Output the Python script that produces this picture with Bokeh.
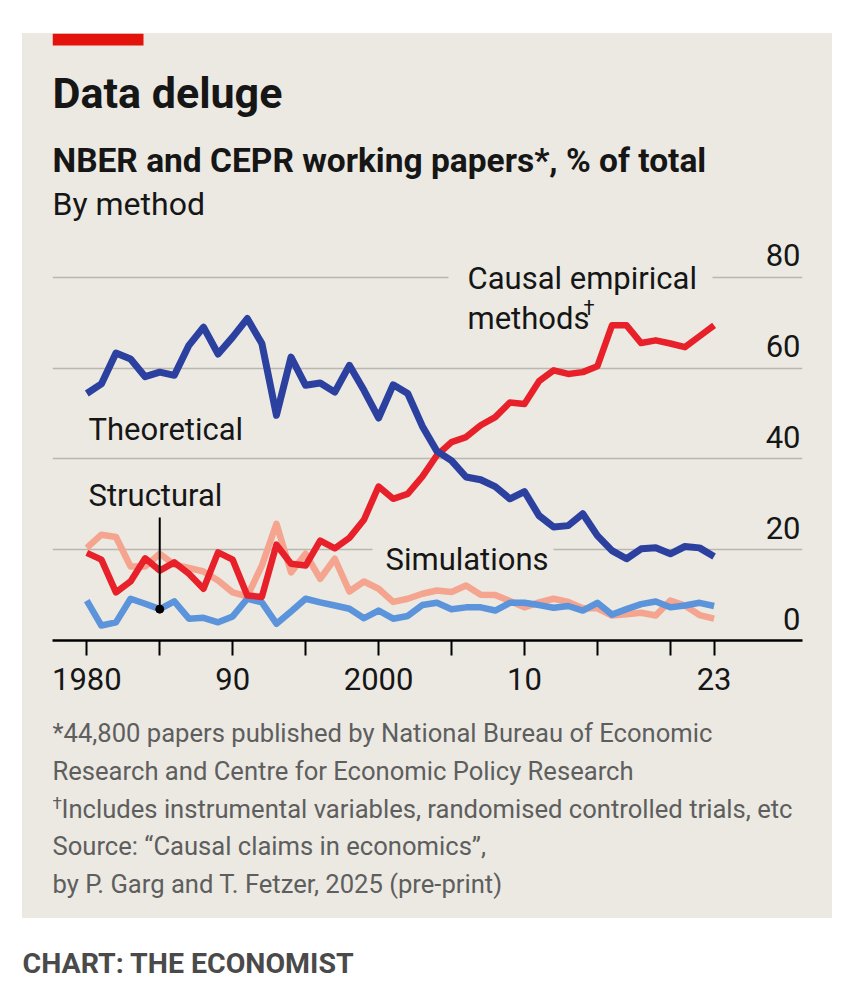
from bokeh.plotting import figure
from bokeh.models import Range1d, FixedTicker, Label, BoxAnnotation, ColumnDataSource
from bokeh.layouts import column
from bokeh.embed import file_html
from bokeh.resources import INLINE
from bokeh.core.properties import value

# ---------------- data ----------------
years = list(range(1980, 2024))
theoretical = [54.4, 56.5, 63.3, 62.0, 58.1, 59.1, 58.4, 65.0, 69.0, 63.1,
               66.8, 70.9, 65.4, 49.6, 62.4, 56.2, 56.7, 54.7, 60.6, 55.1,
               49.0, 56.3, 54.4, 47.2, 41.7, 39.6, 36.0, 35.4, 33.9, 31.2,
               32.8, 27.5, 25.0, 25.3, 27.9, 23.1, 19.8, 18.0, 20.2, 20.4,
               19.1, 20.7, 20.4, 18.5]
causal = [19.3, 17.8, 10.6, 13.0, 18.1, 15.4, 17.2, 14.7, 11.4, 19.4,
          17.8, 9.9, 9.6, 21.1, 16.9, 16.5, 22.0, 20.3, 22.6, 26.6,
          33.9, 31.2, 32.3, 36.1, 40.8, 43.7, 44.8, 47.4, 49.2, 52.4,
          52.1, 57.1, 59.5, 58.7, 59.1, 60.4, 69.4, 69.4, 65.5, 66.1,
          65.4, 64.6, 67.0, 69.4]
simulations = [20.4, 23.3, 22.8, 16.3, 16.3, 19.1, 16.7, 16.0, 15.2, 13.2,
               10.6, 9.7, 16.5, 25.7, 15.0, 19.1, 13.6, 18.0, 10.8, 13.0,
               11.4, 8.5, 9.2, 10.3, 11.0, 10.7, 12.1, 10.1, 10.0, 8.7,
               7.3, 8.4, 9.2, 8.5, 7.1, 7.1, 5.5, 5.8, 6.1, 5.5,
               8.8, 7.7, 5.6, 4.8]
structural = [8.8, 3.3, 4.0, 9.2, 8.1, 6.9, 8.6, 4.8, 5.0, 4.0,
              5.3, 9.2, 8.4, 3.7, 6.4, 9.2, 8.4, 7.7, 7.0, 4.9,
              6.6, 4.8, 5.4, 7.8, 8.3, 6.9, 7.3, 7.3, 6.6, 8.3,
              8.3, 7.8, 7.2, 7.6, 6.6, 8.3, 5.7, 6.9, 8.0, 8.6,
              7.3, 7.7, 8.3, 7.6]

y_ticks = [0, 20, 40, 60, 80]
y_tick_labels = ["0", "20", "40", "60", "80"]
x_ticks = [1980, 1985, 1990, 1995, 2000, 2005, 2010, 2015, 2020, 2023]
x_tick_labels = ["1980", "", "90", "", "2000", "", "10", "", "", "23"]
structural_pointer_year = 1985

title = "Data deluge"
subtitle = "NBER and CEPR working papers*, % of total"
subsubtitle = "By method"
notes = ["*44,800 papers published by National Bureau of Economic",
         "Research and Centre for Economic Policy Research",
         "Includes instrumental variables, randomised controlled trials, etc",
         "Source: \u201cCausal claims in economics\u201d,",
         "by P. Garg and T. Fetzer, 2025 (pre-print)"]
credit = "CHART: THE ECONOMIST"

# ---------------- style ----------------
BG = "#ebe9e2"
GRID = "#b9b8b0"
DARK_BLUE = "#2c40a0"
RED = "#e8202a"
SALMON = "#f4a48f"
LIGHT_BLUE = "#5b94da"
INK = "#161616"
GREY = "#5e5e5e"
FONT = "Roboto"
BASE_SHIFT = 0.35   # correction of the renderer's alphabetic baseline (in em)

W = 810          # panel width (page x 22 .. 832)
LEFT = 22        # page x of the panel
TOP = 33         # page y of the panel
B_LEFT, B_RIGHT = 30, 30


def blank(y_top, y_bottom, bg, margin=(0, 0, 0, 0), aligned=True):
    """Figure whose data coordinates are page pixels."""
    if aligned:
        xr = Range1d(LEFT + B_LEFT, LEFT + W - B_RIGHT)
        kw = dict(min_border_left=B_LEFT, min_border_right=B_RIGHT,
                  min_border_top=0, min_border_bottom=0)
    else:
        xr = Range1d(LEFT, LEFT + W)
        kw = dict(min_border=0)
    f = figure(width=W, height=y_bottom - y_top, x_range=xr, y_range=Range1d(y_bottom, y_top),
               output_backend="svg", toolbar_location=None,
               x_axis_location=None, y_axis_location=None, margin=margin, **kw)
    f.background_fill_color = bg
    f.border_fill_color = bg
    f.outline_line_color = None
    f.xgrid.visible = False
    f.ygrid.visible = False
    return f


def tlab(fig, text, px, py, size, style="normal", color=INK):
    fig.add_layout(Label(x=px, y=py - BASE_SHIFT * size, text=text, text_font=FONT,
                         text_font_size=f"{size}px", text_font_style=style,
                         text_color=color, text_baseline="alphabetic"))


# ---------------- header ----------------
HEAD_BOTTOM = 230
head = blank(TOP, HEAD_BOTTOM, BG)
head.add_layout(BoxAnnotation(left=52, right=143, top=TOP, bottom=TOP + 12,
                              fill_color="#e3120b", fill_alpha=1, line_color=None))
tlab(head, title, 52, 107.3, 43, "bold")
tlab(head, subtitle, 52, 171.7, 33.5, "bold")
tlab(head, subsubtitle, 52, 215, 32)

# ---------------- chart ----------------
CH_H = 480
B_BOTTOM = 70
FRAME_W = W - B_LEFT - B_RIGHT
FRAME_H = CH_H - B_BOTTOM
PX_PER_YEAR = 14.588
PX_PER_UNIT = 4.541
x_start = 1980 - 34.3 / PX_PER_YEAR
x_range = Range1d(x_start, x_start + FRAME_W / PX_PER_YEAR)
y_range = Range1d(0, FRAME_H / PX_PER_UNIT)

p = figure(width=W, height=CH_H, x_range=x_range, y_range=y_range,
           output_backend="svg", toolbar_location=None,
           min_border_left=B_LEFT, min_border_right=B_RIGHT,
           min_border_top=0, min_border_bottom=B_BOTTOM,
           y_axis_location=None)
p.background_fill_color = BG
p.border_fill_color = BG
p.outline_line_color = None

p.xgrid.visible = False
p.ygrid.ticker = FixedTicker(ticks=[t for t in y_ticks if t > 0])
p.ygrid.grid_line_color = GRID
p.ygrid.grid_line_width = 1.5

ax = p.xaxis[0]
ax.ticker = FixedTicker(ticks=x_ticks)
ax.major_label_overrides = {t: lab for t, lab in zip(x_ticks, x_tick_labels)}
ax.axis_line_color = "black"
ax.axis_line_width = 2.5
ax.major_tick_line_color = "black"
ax.major_tick_line_width = 2
ax.major_tick_out = 15
ax.major_tick_in = 0
ax.minor_tick_line_color = None
ax.major_label_text_font = FONT
ax.major_label_text_font_size = "31px"
ax.major_label_text_color = INK
ax.major_label_standoff = 12

# y tick labels sit above their gridlines, right-aligned
y_lab_x = x_range.end - 2 / PX_PER_YEAR
p.text(x=[y_lab_x] * len(y_ticks), y=y_ticks, text=y_tick_labels,
       text_align="right", text_baseline="alphabetic", y_offset=-22,
       text_font=value(FONT), text_font_size="31px", text_color=INK)

# chart frame bottom-left is at page (52, 640)
def cbox(x0, x1, y0, y1):
    p.add_layout(BoxAnnotation(left=x0 - 52, right=x1 - 52, top=640 - y0, bottom=640 - y1,
                               left_units="screen", right_units="screen",
                               top_units="screen", bottom_units="screen",
                               fill_color=BG, fill_alpha=1, line_color=None))


def clab(text, px, py, size):
    p.add_layout(Label(x=px - 52, y=640 - (py - BASE_SHIFT * size), x_units="screen",
                       y_units="screen", text=text, text_font=FONT,
                       text_font_size=f"{size}px", text_color=INK,
                       text_baseline="alphabetic"))


# background patches behind labels that interrupt gridlines
cbox(448, 712, 268, 286)
cbox(372, 553, 541, 557)

src = ColumnDataSource(dict(year=years, theoretical=theoretical, causal=causal,
                            simulations=simulations, structural=structural))
p.line("year", "simulations", source=src, line_color=SALMON, line_width=6.5, line_join="round")
p.line("year", "structural", source=src, line_color=LIGHT_BLUE, line_width=6.5, line_join="round")
p.line("year", "causal", source=src, line_color=RED, line_width=6.5, line_join="round")
p.line("year", "theoretical", source=src, line_color=DARK_BLUE, line_width=7, line_join="round")

sy = structural[years.index(structural_pointer_year)]
p.segment(x0=[structural_pointer_year], y0=[27.1], x1=[structural_pointer_year], y1=[sy],
          line_color="black", line_width=2)
p.scatter(x=[structural_pointer_year], y=[sy], size=8, color="black")

clab("Causal empirical", 467, 289.3, 31)
clab("methods", 467, 329.3, 31)
clab("\u2020", 583, 314, 20)
clab("Theoretical", 88, 440, 31)
clab("Structural", 88, 506, 31)
clab("Simulations", 385, 570, 31)

# ---------------- footnotes ----------------
FOOT_TOP = HEAD_BOTTOM + CH_H      # 710
FOOT_BOTTOM = 918
foot = blank(FOOT_TOP, FOOT_BOTTOM, BG)
for i, t in enumerate(notes):
    x0 = 52
    base = 741.7 + i * 37.75
    if i == 2:
        tlab(foot, "\u2020", 52, base - 9, 17, color=GREY)
        x0 = 61
    tlab(foot, t, x0, base, 25.6, color=GREY)

main = column(head, p, foot, spacing=0, margin=(TOP, 0, 0, LEFT),
              styles={"background-color": BG})

# ---------------- credit (white, separate root) ----------------
cred = blank(FOOT_BOTTOM, FOOT_BOTTOM + 70, "white", margin=(0, 0, 0, LEFT), aligned=False)
tlab(cred, credit, 22, 972.7, 28.5, "bold", color="#4a4a4a")

with open("out.html", "w", encoding="utf-8") as f:
    f.write(file_html([main, cred], INLINE))
